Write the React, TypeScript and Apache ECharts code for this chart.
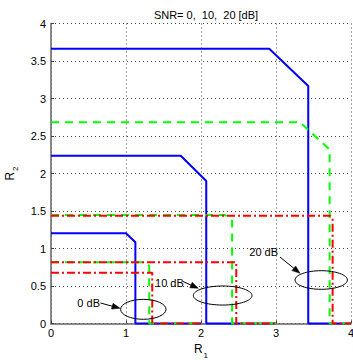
import React, { useEffect, useRef } from "react";
import * as echarts from "echarts";

// ---- data ----
const xTicks = [0, 1, 2, 3, 4];
const yTicks = [0, 0.5, 1, 1.5, 2, 2.5, 3, 3.5, 4];
const snrLabels = ["0 dB", "10 dB", "20 dB"];

const blue0 = [[0, 1.203], [1.0, 1.203], [1.125, 1.083], [1.125, 0], [2, 0]];
const blue10 = [[0, 2.237], [1.73, 2.237], [2.07, 1.9], [2.07, 0], [3, 0]];
const blue20 = [[0, 3.664], [2.91, 3.664], [3.43, 3.167], [3.43, 0], [4, 0]];

const green0 = [[0, 0.816], [1.25, 0.816], [1.31, 0.77], [1.31, 0], [2, 0]];
const green10 = [[0, 1.447], [2.32, 1.447], [2.415, 1.37], [2.415, 0], [3, 0]];
const green20 = [[0, 2.683], [3.32, 2.683], [3.715, 2.32], [3.715, 0], [4, 0]];

const red0 = [[0, 0.677], [1.35, 0.677], [1.35, 0], [2, 0]];
const red10 = [[0, 0.816], [2.47, 0.816], [2.47, 0], [3, 0]];
const red20 = [[0, 1.437], [3.72, 1.437], [3.755, 1.4], [3.755, 0], [4, 0]];

// annotation anchors in data units
const ellipseCenters = [[1.231, 0.189], [2.289, 0.373], [3.603, 0.58]];
const ellipseRadii = [[0.303, 0.133], [0.391, 0.127], [0.349, 0.124]];
const labelAnchors = [[0.653, 0.269], [1.387, 0.544], [2.644, 0.949]];
const labelAlign = ["right", "left", "left"];
const arrowFrom = [[0.66, 0.273], [1.76, 0.56], [3.053, 0.887]];
const arrowTo = [[0.92, 0.203], [1.964, 0.469], [3.32, 0.669]];

const FONT = "'Liberation Sans', Arial, Helvetica, sans-serif";

export default function App() {
  const ref = useRef<HTMLDivElement>(null);
  useEffect(() => {
    if (!ref.current) return;
    const chart = echarts.init(ref.current, null, { renderer: "svg" });
    const mk = (data: number[][], color: string, type: any, z: number) => ({
      type: "line",
      data,
      showSymbol: false,
      symbol: "none",
      clip: false,
      z,
      lineStyle: { color, width: 2, type, cap: "butt" },
    });
    const dashed = [8, 6];
    const dashDot = [8, 3, 2, 3];
    const nameRich = {
      r: { fontSize: 12, fontFamily: FONT, color: "#000", verticalAlign: "top", lineHeight: 16 },
      s: { fontSize: 8, fontFamily: FONT, color: "#000", verticalAlign: "bottom", lineHeight: 16, padding: [8, 0, 0, 1] },
    };
    chart.setOption({
      animation: false,
      textStyle: { fontFamily: FONT },
      title: {
        text: "SNR= 0,  10,  20 [dB]",
        left: 201,
        top: 4,
        textAlign: "center",
        textStyle: { fontSize: 11, fontWeight: "normal", color: "#000", fontFamily: FONT },
      },
      grid: {
        left: 51,
        right: 2,
        top: 23.5,
        bottom: 36.5,
        containLabel: false,
        outerBoundsMode: "none",
      },
      xAxis: {
        type: "value",
        min: xTicks[0],
        max: xTicks[xTicks.length - 1],
        interval: 1,
        name: "{r|R}{s|1}",
        nameLocation: "middle",
        nameGap: 16,
        nameTextStyle: { color: "#000", rich: nameRich },
        axisLine: { show: true, onZero: false, lineStyle: { color: "#666", width: 1.5 } },
        axisTick: { show: true, inside: true, length: 3, lineStyle: { color: "#444" } },
        axisLabel: { color: "#000", fontSize: 11, margin: 4, fontFamily: FONT, hideOverlap: false },
        splitLine: { show: true, lineStyle: { color: "#444", type: [1, 3], width: 1 } },
      },
      yAxis: {
        type: "value",
        min: yTicks[0],
        max: yTicks[yTicks.length - 1],
        interval: 0.5,
        name: "{r|R}{s|2}",
        nameLocation: "middle",
        nameGap: 27,
        nameTextStyle: { color: "#000", rich: nameRich },
        axisLine: { show: true, onZero: false, lineStyle: { color: "#666", width: 1.5 } },
        axisTick: { show: true, inside: true, length: 3, lineStyle: { color: "#444" } },
        axisLabel: { color: "#000", fontSize: 11, margin: 5, fontFamily: FONT },
        splitLine: { show: true, lineStyle: { color: "#444", type: [1, 3], width: 1 } },
      },
      series: [
        mk(blue0, "#0000FF", "solid", 2),
        mk(blue10, "#0000FF", "solid", 2),
        mk(blue20, "#0000FF", "solid", 2),
        mk(green0, "#00FF00", dashed, 3),
        mk(green10, "#00FF00", dashed, 3),
        mk(green20, "#00FF00", dashed, 3),
        mk(red0, "#FF0000", dashDot, 4),
        mk(red10, "#FF0000", dashDot, 4),
        mk(red20, "#FF0000", dashDot, 4),
      ],
    });

    const toPx = (p: number[]) => chart.convertToPixel({ gridIndex: 0 }, p) as number[];
    const origin = toPx([0, 0]);
    const unit = toPx([1, 1]);
    const sx = unit[0] - origin[0];
    const sy = origin[1] - unit[1];
    const elements: any[] = [];
    snrLabels.forEach((lab, i) => {
      const c = toPx(ellipseCenters[i]);
      elements.push({
        type: "ellipse",
        shape: { cx: c[0], cy: c[1], rx: ellipseRadii[i][0] * sx, ry: ellipseRadii[i][1] * sy },
        style: { fill: "none", stroke: "#000", lineWidth: 1 },
        z: 100,
      });
      const t = toPx(labelAnchors[i]);
      elements.push({
        type: "text",
        x: t[0],
        y: t[1],
        style: {
          text: lab,
          fontSize: 11,
          fontFamily: FONT,
          fill: "#000",
          align: labelAlign[i],
          verticalAlign: "middle",
        },
        z: 100,
      });
      const a = toPx(arrowFrom[i]);
      const b = toPx(arrowTo[i]);
      const dx = b[0] - a[0];
      const dy = b[1] - a[1];
      const len = Math.sqrt(dx * dx + dy * dy);
      const ux = dx / len;
      const uy = dy / len;
      const hl = 8;
      const hw = 3;
      const bx = b[0] - ux * hl;
      const by = b[1] - uy * hl;
      elements.push({
        type: "line",
        shape: { x1: a[0], y1: a[1], x2: bx, y2: by },
        style: { stroke: "#000", lineWidth: 1 },
        z: 100,
      });
      elements.push({
        type: "polygon",
        shape: {
          points: [
            [b[0], b[1]],
            [bx - uy * hw, by + ux * hw],
            [bx + uy * hw, by - ux * hw],
          ],
        },
        style: { fill: "#000", stroke: "#000", lineWidth: 0.5 },
        z: 100,
      });
    });
    chart.setOption({ graphic: elements });
    return () => chart.dispose();
  }, []);
  return (
    <div
      ref={ref}
      style={{ position: "fixed", left: 0, top: 0, width: 353, height: 360, background: "#fff" }}
    />
  );
}
